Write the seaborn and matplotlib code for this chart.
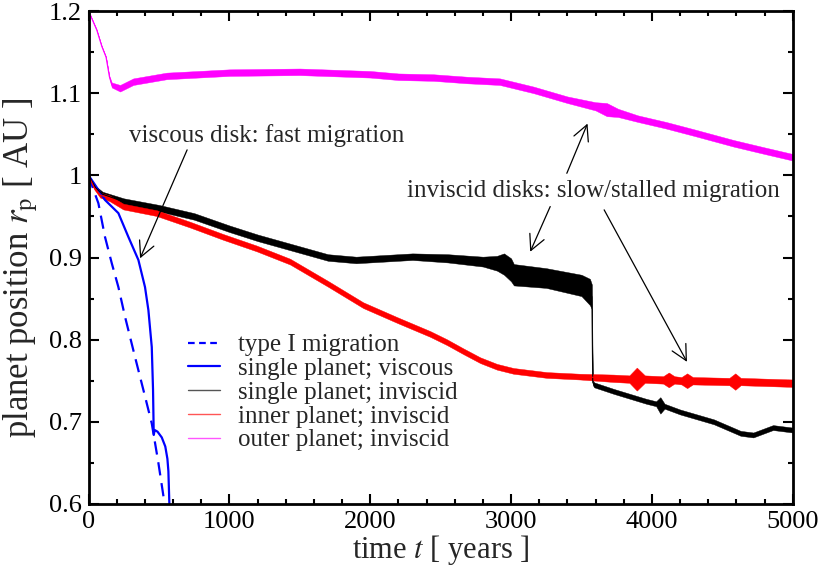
import numpy as np
import matplotlib
matplotlib.use('Agg')
import matplotlib.pyplot as plt
import seaborn as sns
from matplotlib.lines import Line2D
from matplotlib.ticker import MultipleLocator, FixedLocator, FixedFormatter

# values (t in years, r_p in AU)
# noisy runs are stored as a centre line plus the half width of the jitter band
t_type1 = [0, 11, 70, 117, 165, 212, 259, 330, 401, 449, 496, 543, 555]
r_type1 = [1.0, 0.994, 0.966, 0.925, 0.893, 0.864, 0.828, 0.779, 0.731, 0.698, 0.650, 0.597, 0.58]

t_visc = [0, 40, 117, 212, 283, 354, 401, 425, 449, 458, 463, 470, 490, 520, 545, 560, 567, 574, 578]
r_visc = [1.0, 0.990, 0.970, 0.954, 0.925, 0.897, 0.864, 0.836, 0.791, 0.739, 0.684, 0.690,
          0.688, 0.681, 0.670, 0.655, 0.64, 0.60, 0.58]

t_single = [0, 50, 100, 250, 500, 750, 1000, 1200, 1450, 1700, 1900, 2100, 2300, 2550, 2800,
            2900, 2950, 3000, 3020, 3250, 3500, 3560, 3574, 3580, 3590, 3730, 3960, 4030, 4060,
            4090, 4200, 4440, 4630, 4720, 4860, 5000]
r_single = [1.0, 0.985, 0.977, 0.968, 0.960, 0.950, 0.935, 0.924, 0.912, 0.900, 0.897, 0.899,
            0.901, 0.899, 0.895, 0.893, 0.892, 0.885, 0.879, 0.875, 0.866, 0.858, 0.852, 0.748,
            0.745, 0.737, 0.725, 0.722, 0.720, 0.719, 0.712, 0.700, 0.686, 0.684, 0.693, 0.690]
h_single = [0.001, 0.002, 0.003, 0.004, 0.004, 0.004, 0.004, 0.004, 0.004, 0.004, 0.004, 0.004,
            0.004, 0.005, 0.006, 0.009, 0.013, 0.014, 0.013, 0.012, 0.013, 0.016, 0.015, 0.003,
            0.003, 0.003, 0.003, 0.003, 0.010, 0.003, 0.003, 0.003, 0.003, 0.003, 0.003, 0.003]

t_inner = [0, 40, 82, 150, 247, 484, 721, 957, 1194, 1431, 1700, 1950, 2190, 2425, 2544, 2660,
           2781, 2900, 3017, 3254, 3491, 3727, 3840, 3893, 3950, 4080, 4120, 4160, 4210, 4250,
           4290, 4550, 4592, 4630, 5000]
r_inner = [1.0, 0.985, 0.976, 0.972, 0.962, 0.954, 0.940, 0.925, 0.911, 0.895, 0.868, 0.842,
           0.824, 0.807, 0.797, 0.786, 0.775, 0.767, 0.762, 0.757, 0.755, 0.753, 0.752, 0.752,
           0.752, 0.751, 0.751, 0.751, 0.750, 0.750, 0.750, 0.749, 0.749, 0.749, 0.747]
h_inner = [0.001, 0.002, 0.003, 0.0035, 0.0035, 0.0035, 0.0035, 0.0035, 0.0035, 0.0035, 0.0035,
           0.0035, 0.0035, 0.0035, 0.0035, 0.0035, 0.0035, 0.0035, 0.0035, 0.0035, 0.0035, 0.0045,
           0.0045, 0.014, 0.0045, 0.0045, 0.009, 0.0045, 0.0045, 0.009, 0.0045, 0.0045, 0.010,
           0.0045, 0.0045]

t_outer = [0, 58, 94, 124, 148, 165, 224, 318, 555, 1000, 1500, 2000, 2200, 2450, 2690, 2920,
           3160, 3400, 3600, 3680, 3760, 3900, 4100, 4300, 4580, 4800, 5000]
r_outer = [1.2, 1.177, 1.157, 1.144, 1.120, 1.110, 1.106, 1.114, 1.121, 1.125, 1.126, 1.123,
           1.120, 1.119, 1.116, 1.114, 1.104, 1.092, 1.084, 1.080, 1.076, 1.069, 1.061, 1.052,
           1.039, 1.030, 1.022]
h_outer = [0.0005, 0.0005, 0.0005, 0.0005, 0.001, 0.003, 0.004, 0.004, 0.004, 0.004, 0.004,
           0.004, 0.004, 0.004, 0.004, 0.004, 0.004, 0.004, 0.005, 0.008, 0.005, 0.004,
           0.004, 0.004, 0.004, 0.004, 0.004]

xticks = [0, 1000, 2000, 3000, 4000, 5000]
xticklabels = ['0', '1000', '2000', '3000', '4000', '5000']
yticks = [0.6, 0.7, 0.8, 0.9, 1.0, 1.1, 1.2]
yticklabels = ['0.6', '0.7', '0.8', '0.9', '1', '1.1', '1.2']

sns.set_theme(style='ticks')
plt.rcParams['font.family'] = ['Liberation Serif', 'DejaVu Serif']
plt.rcParams['mathtext.fontset'] = 'stix'

fig = plt.figure(figsize=(8.22, 5.68), dpi=100)
ax = fig.add_axes([0.1077, 0.1127, 0.8567, 0.8679])

# blue curves
sns.lineplot(x=t_type1, y=r_type1, ax=ax, color='#0000ff', lw=1.6,
             linestyle=(0, (6, 3.5)), estimator=None, sort=False)
sns.lineplot(x=t_visc, y=r_visc, ax=ax, color='#0000ff', lw=1.6,
             estimator=None, sort=False)


def noisy(t, r, h, color):
    r = np.array(r)
    h = np.array(h)
    ax.fill_between(t, r - h, r + h, color=color, lw=0.3, edgecolor=color)
    sns.lineplot(x=t, y=r, ax=ax, color=color, lw=0.8, estimator=None, sort=False)


noisy(t_single, r_single, h_single, 'black')
noisy(t_inner, r_inner, h_inner, '#ff0000')
noisy(t_outer, r_outer, h_outer, '#ff00ff')

ax.set_xlim(0, 5000)
ax.set_ylim(0.6, 1.2)
ax.xaxis.set_major_locator(FixedLocator(xticks))
ax.xaxis.set_major_formatter(FixedFormatter(xticklabels))
ax.xaxis.set_minor_locator(MultipleLocator(200))
ax.yaxis.set_major_locator(FixedLocator(yticks))
ax.yaxis.set_major_formatter(FixedFormatter(yticklabels))
ax.yaxis.set_minor_locator(MultipleLocator(0.05))
ax.tick_params(which='both', direction='in', top=True, right=True, width=1.5,
               labelsize=19, colors='black')
ax.tick_params(which='major', length=7, pad=5)
ax.tick_params(which='minor', length=3.5)
for s in ax.spines.values():
    s.set_linewidth(2)
    s.set_color('black')

ax.set_xlabel('time $t$ [ years ]', fontsize=22, labelpad=0)
ax.set_ylabel(r'planet position $r_{\rm p}$ [ AU ]', fontsize=25)
ax.yaxis.set_label_coords(-0.069, 0.48)

# annotations
ax.text(288, 1.041, 'viscous disk: fast migration', fontsize=18, va='baseline')
ax.text(2260, 0.974, 'inviscid disks: slow/stalled migration', fontsize=18, va='baseline')
arrow = dict(arrowstyle='->,head_length=0.55,head_width=0.28', lw=0.9, color='black',
             mutation_scale=20, shrinkA=0, shrinkB=0)
ax.annotate('', xy=(366, 0.899), xytext=(700, 1.031), arrowprops=arrow)
ax.annotate('', xy=(3543, 1.063), xytext=(3396, 1.0025), arrowprops=arrow)
ax.annotate('', xy=(3136, 0.907), xytext=(3278, 0.962), arrowprops=arrow)
ax.annotate('', xy=(4249, 0.773), xytext=(3661, 0.958), arrowprops=arrow)

handles = [Line2D([], [], color='#0000ff', lw=1.6, linestyle=(0, (3, 2))),
           Line2D([], [], color='#0000ff', lw=1.6),
           Line2D([], [], color='#555555', lw=1.0),
           Line2D([], [], color='#ff5555', lw=1.0),
           Line2D([], [], color='#ff55ff', lw=1.0)]
labels = ['type I migration', 'single planet; viscous', 'single planet; inviscid',
          'inner planet; inviscid', 'outer planet; inviscid']
leg = ax.legend(handles, labels, loc='upper left', bbox_to_anchor=(0.141, 0.345),
                frameon=False, fontsize=18, handlelength=1.3, handletextpad=0.7,
                labelspacing=0.05, borderpad=0, borderaxespad=0)

fig.savefig('out.png', dpi=100)
